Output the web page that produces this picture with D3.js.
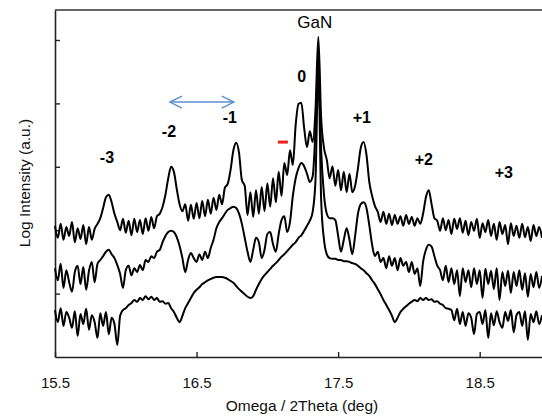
<!DOCTYPE html>
<html>
<head>
<meta charset="utf-8">
<script src="https://cdn.jsdelivr.net/npm/d3@7"></script>
<style>
  html, body { margin: 0; padding: 0; background: #fff; }
  svg { display: block; font-family: "Liberation Sans", Arial, sans-serif; }
</style>
</head>
<body>
<svg id="chart" width="542" height="418"></svg>
<script>
// Omega/2Theta scan samples: start angle and step (deg)
const angleStart = 15.5;
const angleStep = 0.02;

// Log intensity (decades, arbitrary offset)
const topScan = [
  2.07,1.88,2.10,1.85,2.05,1.91,2.13,1.81,2.03,1.86,
  2.08,1.78,2.05,1.85,2.02,2.10,2.19,2.35,2.52,2.56,
  2.44,2.26,2.13,2.00,2.18,1.96,2.15,1.92,2.18,1.97,
  2.16,1.94,2.19,1.99,2.21,2.03,2.22,2.26,2.37,2.56,
  2.82,3.00,2.92,2.65,2.41,2.30,2.41,2.15,2.40,2.18,
  2.43,2.19,2.46,2.22,2.48,2.26,2.51,2.32,2.56,2.41,
  2.67,2.73,2.95,3.26,3.38,3.22,2.79,2.70,2.24,2.60,
  2.21,2.63,2.26,2.68,2.30,2.74,2.37,2.82,2.44,2.92,
  2.54,3.06,2.87,3.26,3.03,3.66,3.99,4.01,3.61,3.31,
  3.56,3.39,3.90,5.05,3.77,3.30,3.11,2.82,3.01,2.70,
  2.95,2.63,2.92,2.60,2.89,2.60,2.70,2.98,3.30,3.39,
  3.19,2.76,2.54,2.38,2.29,2.13,2.29,2.10,2.26,2.08,
  2.24,2.10,2.22,2.07,2.24,2.10,2.21,2.07,2.19,2.10,
  2.26,2.52,2.63,2.41,2.19,2.15,1.99,2.19,2.00,2.16,
  1.94,2.18,2.02,2.19,1.96,2.15,1.92,2.13,1.99,2.18,
  1.88,2.11,1.97,2.16,1.91,2.10,1.85,2.13,1.94,2.08,
  1.78,2.11,1.91,2.07,1.88,2.10,1.89,2.05,1.83,2.08,
  1.91,2.05,1.88
];
const midScan = [
  1.40,1.21,1.47,1.09,1.37,1.18,1.03,1.34,1.44,1.15,
  1.42,1.06,1.36,1.50,1.18,1.47,1.53,1.59,1.66,1.69,
  1.62,1.56,1.45,1.31,1.09,1.37,1.44,1.29,1.40,1.34,
  1.45,1.37,1.53,1.50,1.59,1.56,1.66,1.69,1.81,1.91,
  1.97,1.99,1.97,1.89,1.75,1.56,1.34,1.53,1.64,1.56,
  1.50,1.62,1.53,1.66,1.56,1.72,1.85,2.03,2.13,2.19,
  2.26,2.32,2.35,2.37,2.35,2.26,2.10,1.88,1.66,1.50,
  1.69,1.88,1.81,1.56,1.69,1.94,1.97,1.78,1.66,1.94,
  2.16,2.22,1.97,2.13,2.54,2.82,2.98,3.06,3.01,2.89,
  2.76,2.85,3.58,4.76,3.26,2.56,2.26,2.19,2.19,2.16,
  1.91,1.66,1.85,2.03,1.85,1.62,1.91,2.26,2.41,2.44,
  2.35,2.08,1.77,1.59,1.66,1.50,1.56,1.40,1.59,1.44,
  1.56,1.37,1.56,1.44,1.50,1.34,1.50,1.31,1.40,1.12,
  1.50,1.69,1.77,1.74,1.59,1.44,1.37,1.21,1.44,1.18,
  1.40,1.15,1.37,0.96,1.40,1.18,1.37,1.10,1.40,1.15,
  1.37,0.93,1.39,1.15,1.36,1.07,1.40,0.90,1.34,1.12,
  1.36,1.01,1.34,1.12,1.37,1.06,1.32,0.95,1.31,1.10,
  1.34,1.09,1.28
];
const lowScan = [
  0.74,0.55,0.77,0.49,0.71,0.62,0.46,0.72,0.33,0.68,
  0.52,0.76,0.43,0.66,0.55,0.30,0.69,0.49,0.71,0.36,
  0.62,0.52,0.19,0.65,0.74,0.77,0.82,0.85,0.90,0.87,
  0.93,0.90,0.96,0.91,0.95,0.90,0.93,0.87,0.88,0.84,
  0.85,0.77,0.71,0.62,0.55,0.65,0.77,0.85,0.93,1.01,
  1.06,1.10,1.15,1.18,1.21,1.23,1.25,1.26,1.26,1.26,
  1.25,1.23,1.20,1.17,1.12,1.07,1.03,0.99,0.95,0.93,
  0.96,1.06,1.15,1.23,1.29,1.34,1.39,1.44,1.48,1.53,
  1.58,1.62,1.67,1.72,1.77,1.81,1.88,1.92,1.99,2.07,
  2.15,2.29,2.79,4.53,2.48,1.85,1.62,1.56,1.55,1.55,
  1.53,1.53,1.51,1.51,1.50,1.48,1.47,1.44,1.40,1.37,
  1.32,1.28,1.21,1.15,1.07,0.99,0.90,0.82,0.74,0.65,
  0.55,0.62,0.71,0.76,0.80,0.84,0.87,0.90,0.88,0.93,
  0.90,0.93,0.90,0.91,0.87,0.88,0.84,0.82,0.77,0.76,
  0.74,0.58,0.76,0.52,0.71,0.49,0.69,0.62,0.36,0.68,
  0.71,0.52,0.74,0.30,0.69,0.50,0.72,0.55,0.46,0.71,
  0.57,0.74,0.39,0.66,0.71,0.49,0.72,0.27,0.68,0.55,
  0.72,0.52,0.66
];

const xTicks = [15.5, 16.5, 17.5, 18.5];
const yTicks = [1, 2, 3, 4, 5];

// Peak annotations (angle in deg, level in decades)
const peakLabels = ["-3", "-2", "-1", "0", "GaN", "+1", "+2", "+3"];
const peakLabelAngle = [15.867, 16.305, 16.735, 17.243, 17.335, 17.667, 18.105, 18.67];
const peakLabelLevel = [3.06, 3.47, 3.69, 4.34, 5.19, 3.69, 3.03, 2.82];

// Fringe-period arrow and red marker
const arrowAngles = [16.312, 16.763];
const arrowLevel = 4.02;
const markAngles = [17.074, 17.145];
const markLevel = 3.39;

const svg = d3.select("#chart");
const margin = {left: 55, top: 10, bottom: 357, right: 542};

const x = d3.scaleLinear().domain([15.5, 18.94]).range([margin.left, margin.right]);
const y = d3.scaleLinear().domain([0, 5.473]).range([margin.bottom, margin.top]);

const axisColor = "#222";

// Bottom axis
const gx = svg.append("g")
  .attr("transform", `translate(0,${margin.bottom})`)
  .call(d3.axisBottom(x).tickValues(xTicks).tickSizeInner(-5).tickSizeOuter(0)
        .tickPadding(20).tickFormat(d3.format(".1f")));
gx.select(".domain").attr("stroke", axisColor).attr("stroke-width", 1.6);
gx.selectAll(".tick line").attr("stroke", axisColor).attr("stroke-width", 1.4);
gx.selectAll(".tick text").attr("font-size", 15).attr("fill", "#111")
  .attr("font-family", "Liberation Sans, Arial, sans-serif");

// Left axis
const gy = svg.append("g")
  .attr("transform", `translate(${margin.left},0)`)
  .call(d3.axisLeft(y).tickValues(yTicks).tickSizeInner(-5).tickSizeOuter(0).tickFormat(""));
gy.select(".domain").attr("stroke", axisColor).attr("stroke-width", 1.6);
gy.selectAll(".tick line").attr("stroke", axisColor).attr("stroke-width", 1.4);

// Top frame line
svg.append("line")
  .attr("x1", x.range()[0]).attr("x2", x.range()[1])
  .attr("y1", y.range()[1]).attr("y2", y.range()[1])
  .attr("stroke", "#333").attr("stroke-width", 1.6);

// Scans
const line = d3.line()
  .x((d, i) => x(angleStart + i * angleStep))
  .y(d => y(d))
  .curve(d3.curveMonotoneX);

[lowScan, midScan, topScan].forEach(scan => {
  svg.append("path")
    .datum(scan)
    .attr("fill", "none")
    .attr("stroke", "#000")
    .attr("stroke-width", 2)
    .attr("stroke-linejoin", "round")
    .attr("d", line);
});

// Peak labels
svg.append("g").selectAll("text")
  .data(peakLabels)
  .join("text")
  .attr("x", (d, i) => x(peakLabelAngle[i]))
  .attr("y", (d, i) => y(peakLabelLevel[i]))
  .attr("text-anchor", "middle")
  .attr("font-size", d => d === "GaN" ? 17 : 16)
  .attr("font-weight", d => d === "GaN" ? "normal" : "bold")
  .attr("fill", "#000")
  .text(d => d);

// Double arrow
const ax0 = x(arrowAngles[0]), ax1 = x(arrowAngles[1]), ay = y(arrowLevel);
const blue = "#5d8fd0";
svg.append("line").attr("x1", ax0).attr("x2", ax1).attr("y1", ay).attr("y2", ay)
  .attr("stroke", blue).attr("stroke-width", 1.5);
svg.append("path")
  .attr("d", `M${ax0 + 12},${ay - 6} L${ax0},${ay} L${ax0 + 12},${ay + 6} M${ax1 - 12},${ay - 6} L${ax1},${ay} L${ax1 - 12},${ay + 6}`)
  .attr("fill", "none").attr("stroke", blue).attr("stroke-width", 1.5);

// Red marker
svg.append("line")
  .attr("x1", x(markAngles[0])).attr("x2", x(markAngles[1]))
  .attr("y1", y(markLevel)).attr("y2", y(markLevel))
  .attr("stroke", "#e8211b").attr("stroke-width", 3);

// Axis titles
svg.append("text")
  .attr("x", 302).attr("y", 411)
  .attr("text-anchor", "middle").attr("font-size", 15.5).attr("fill", "#111")
  .text("Omega / 2Theta (deg)");
svg.append("text")
  .attr("transform", "translate(30,183) rotate(-90)")
  .attr("text-anchor", "middle").attr("font-size", 15.5).attr("fill", "#111")
  .text("Log Intensity (a.u.)");
</script>
</body>
</html>
